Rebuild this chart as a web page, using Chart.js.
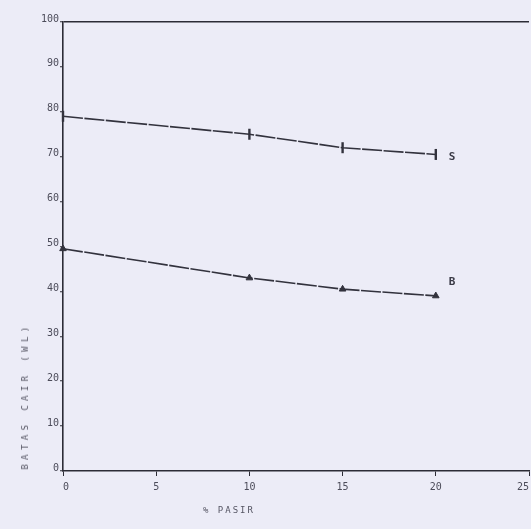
<!DOCTYPE html>
<html>
<head>
<meta charset="utf-8">
<script src="https://cdn.jsdelivr.net/npm/chart.js@4/dist/chart.umd.min.js"></script>
<style>
    html, body {
        margin: 0;
        padding: 0;
        background: #ececf7;
    }
    #plot_wrap {
        position: relative;
        width: 531px;
        height: 529px;
        background: #ececf7;
        overflow: hidden;
    }
    #plot_wrap canvas {
        position: absolute;
        left: 0;
        top: 0;
    }
    .axis_title {
        position: absolute;
        font-family: "DejaVu Sans Mono", monospace;
        font-size: 9px;
        color: #555563;
        white-space: nowrap;
    }
    #y_title {
        left: 25px;
        top: 396px;
        letter-spacing: 4.4px;
        transform: translate(-50%, -50%) rotate(-90deg);
    }
    #x_title {
        left: 229px;
        top: 510px;
        letter-spacing: 2px;
        transform: translate(-50%, -50%);
    }
</style>
</head>
<body>
<div id="plot_wrap">
    <canvas id="batas_chart" width="531" height="529"></canvas>
    <div class="axis_title" id="y_title">BATAS CAIR (WL)</div>
    <div class="axis_title" id="x_title">% PASIR</div>
</div>
<script>
const pasir_ticks = [0, 5, 10, 15, 20, 25];
const cair_ticks = [0, 10, 20, 30, 40, 50, 60, 70, 80, 90, 100];
const pasir_values = [0, 10, 15, 20];
const series_s_values = [79, 75, 72, 70.5];
const series_b_values = [49.5, 43, 40.5, 39];
const series_names = ['S', 'B'];

const plot_palette = {
    ink: '#32323d',
    tick_text: '#4c4c5a',
    frame: '#2c2c36',
};

function make_points(values) {
    return pasir_values.map(function (x_val, idx) {
        return { x: x_val, y: values[idx] };
    });
}

// end-of-line letters (S, B) placed next to the last point of each series
const series_tag_plugin = {
    id: 'series_tag',
    afterDatasetsDraw: function (chart) {
        const ctx = chart.ctx;
        const x_scale = chart.scales.x;
        const y_scale = chart.scales.y;
        ctx.save();
        ctx.font = 'bold 11px "DejaVu Sans Mono", monospace';
        ctx.fillStyle = '#3a3a46';
        ctx.textAlign = 'left';
        ctx.textBaseline = 'middle';
        chart.data.datasets.forEach(function (ds) {
            const last = ds.data[ds.data.length - 1];
            const px = x_scale.getPixelForValue(last.x) + ds.tag_dx;
            const py = y_scale.getPixelForValue(last.y) + ds.tag_dy;
            ctx.fillText(ds.label, px, py);
        });
        ctx.restore();
    },
};

function build_chart() {
    const canvas = document.getElementById('batas_chart');

    new Chart(canvas.getContext('2d'), {
        type: 'line',
        data: {
            datasets: [
                {
                    label: series_names[0],
                    data: make_points(series_s_values),
                    borderColor: plot_palette.ink,
                    backgroundColor: plot_palette.ink,
                    borderWidth: 1.6,
                    borderDash: [20, 1.5],
                    tension: 0,
                    pointStyle: 'line',
                    rotation: 90,
                    pointRadius: 5.5,
                    pointBorderWidth: 2.4,
                    tag_dx: 13,
                    tag_dy: 3,
                },
                {
                    label: series_names[1],
                    data: make_points(series_b_values),
                    borderColor: plot_palette.ink,
                    backgroundColor: plot_palette.ink,
                    borderWidth: 1.6,
                    borderDash: [20, 1.5],
                    tension: 0,
                    pointStyle: 'triangle',
                    pointRadius: 3.8,
                    pointBorderWidth: 1,
                    tag_dx: 13,
                    tag_dy: -14,
                },
            ],
        },
        options: {
            responsive: false,
            animation: false,
            clip: false,
            layout: {
                autoPadding: false,
                padding: { left: 0, right: 2, top: 22, bottom: 0 },
            },
            plugins: {
                legend: { display: false },
                tooltip: { enabled: false },
            },
            scales: {
                x: {
                    type: 'linear',
                    min: 0,
                    max: 25,
                    afterBuildTicks: function (scale) {
                        scale.ticks = pasir_ticks.map(function (v) { return { value: v }; });
                    },
                    afterFit: function (scale) {
                        scale.height = 58;
                        scale.paddingLeft = 0;
                        scale.paddingRight = 0;
                    },
                    ticks: {
                        color: plot_palette.tick_text,
                        font: { family: '"DejaVu Sans Mono", monospace', size: 10 },
                        padding: 5,
                        maxRotation: 0,
                        align: 'inner',
                    },
                    grid: {
                        drawOnChartArea: false,
                        tickLength: 5,
                        tickColor: plot_palette.frame,
                        tickWidth: 1,
                    },
                    border: {
                        color: plot_palette.frame,
                        width: 1.5,
                        dash: [9, 2],
                    },
                },
                y: {
                    min: 0,
                    max: 100,
                    afterBuildTicks: function (scale) {
                        scale.ticks = cair_ticks.map(function (v) { return { value: v }; });
                    },
                    afterFit: function (scale) {
                        scale.width = 63;
                    },
                    ticks: {
                        color: plot_palette.tick_text,
                        font: { family: '"DejaVu Sans Mono", monospace', size: 10 },
                        padding: 1,
                        labelOffset: -3,
                    },
                    grid: {
                        color: function (ctx) {
                            return ctx.tick && ctx.tick.value === 100 ? plot_palette.frame : 'transparent';
                        },
                        lineWidth: 1.5,
                        tickLength: 3,
                        tickColor: plot_palette.frame,
                        tickWidth: 1,
                    },
                    border: {
                        color: plot_palette.frame,
                        width: 1.6,
                    },
                },
            },
        },
        plugins: [series_tag_plugin],
    });
}

build_chart();
</script>
</body>
</html>
